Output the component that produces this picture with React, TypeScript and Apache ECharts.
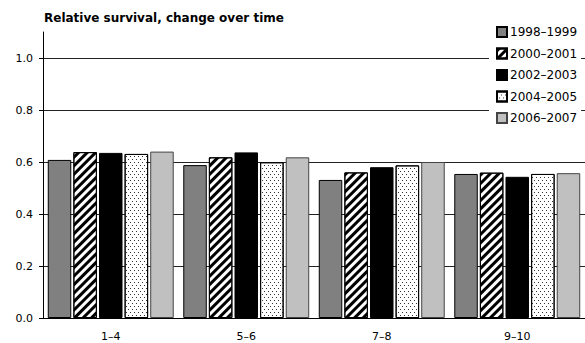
import React, { useEffect, useRef } from "react";
import * as echarts from "echarts";

const categories = ["1–4", "5–6", "7–8", "9–10"];
const seriesNames = ["1998–1999", "2000–2001", "2002–2003", "2004–2005", "2006–2007"];
const s1998 = [0.608, 0.588, 0.531, 0.554];
const s2000 = [0.638, 0.618, 0.56, 0.559];
const s2002 = [0.635, 0.637, 0.58, 0.543];
const s2004 = [0.631, 0.599, 0.587, 0.554];
const s2006 = [0.64, 0.618, 0.6, 0.557];
const yTickValues = [0, 0.2, 0.4, 0.6, 0.8, 1.0];
const yMax = 1.1;

const FONT = "DejaVu Sans";

export default function App() {
  const ref = useRef<HTMLDivElement>(null);
  useEffect(() => {
    if (!ref.current) return;
    const chart = echarts.init(ref.current, null, { renderer: "svg" });
    const values = [s1998, s2000, s2002, s2004, s2006];
    const styles: any[] = [
      { color: "#808080", borderColor: "#000", borderWidth: 1 },
      {
        color: "#ffffff",
        borderColor: "#000",
        borderWidth: 1,
        decal: {
          symbol: "rect",
          symbolSize: 1,
          color: "#000",
          dashArrayX: [1, 0],
          dashArrayY: [3, 3],
          rotation: -Math.PI / 4,
        },
      },
      { color: "#000000", borderColor: "#000", borderWidth: 1 },
      {
        color: "#ffffff",
        borderColor: "#000",
        borderWidth: 1,
        decal: {
          symbol: "rect",
          symbolSize: 1,
          color: "#333",
          dashArrayX: [[1, 3], [0, 2, 1, 1]],
          dashArrayY: [1, 1.5],
          rotation: 0,
        },
      },
      { color: "#c0c0c0", borderColor: "#444", borderWidth: 1 },
    ];
    chart.setOption({
      animation: false,
      backgroundColor: "#ffffff",
      title: {
        text: "Relative survival, change over time",
        left: 44,
        top: 12,
        padding: 0,
        textStyle: { fontFamily: FONT, fontSize: 12, fontWeight: "bold", color: "#000" },
      },
      legend: {
        orient: "vertical",
        left: 489,
        top: 21,
        padding: [5, 4, 5, 7],
        backgroundColor: "#ffffff",
        itemWidth: 10,
        itemHeight: 10,
        itemGap: 9.5,
        icon: "rect",
        textStyle: { fontFamily: FONT, fontSize: 12, color: "#000", padding: [0, 0, 0, -2] },
        data: seriesNames,
      },
      grid: { left: 43, right: -12, top: 32, bottom: 25 },
      xAxis: {
        type: "category",
        data: categories,
        axisLine: { show: true, lineStyle: { color: "#000", width: 1 } },
        axisTick: { show: false },
        axisLabel: { fontFamily: FONT, fontSize: 11, color: "#000", margin: 13 },
        splitLine: { show: false },
      },
      yAxis: {
        type: "value",
        min: 0,
        max: yMax,
        interval: 0.2,
        axisLine: { show: true, lineStyle: { color: "#000", width: 1 } },
        axisTick: { show: true, length: 4, lineStyle: { color: "#000" }, customValues: yTickValues },
        axisLabel: {
          fontFamily: FONT,
          fontSize: 11,
          color: "#000",
          margin: 10,
          customValues: yTickValues,
          formatter: (v: number) => v.toFixed(1),
        },
        splitLine: { show: true, lineStyle: { color: "#222", width: 1 } },
      },
      series: seriesNames.map((name, i) => ({
        name,
        type: "bar",
        data: values[i],
        barWidth: 23.5,
        barGap: "9%",
        itemStyle: styles[i],
      })),
    });
    return () => chart.dispose();
  }, []);
  return <div ref={ref} style={{ width: 585, height: 343, position: "absolute", left: 0, top: 0 }} />;
}
